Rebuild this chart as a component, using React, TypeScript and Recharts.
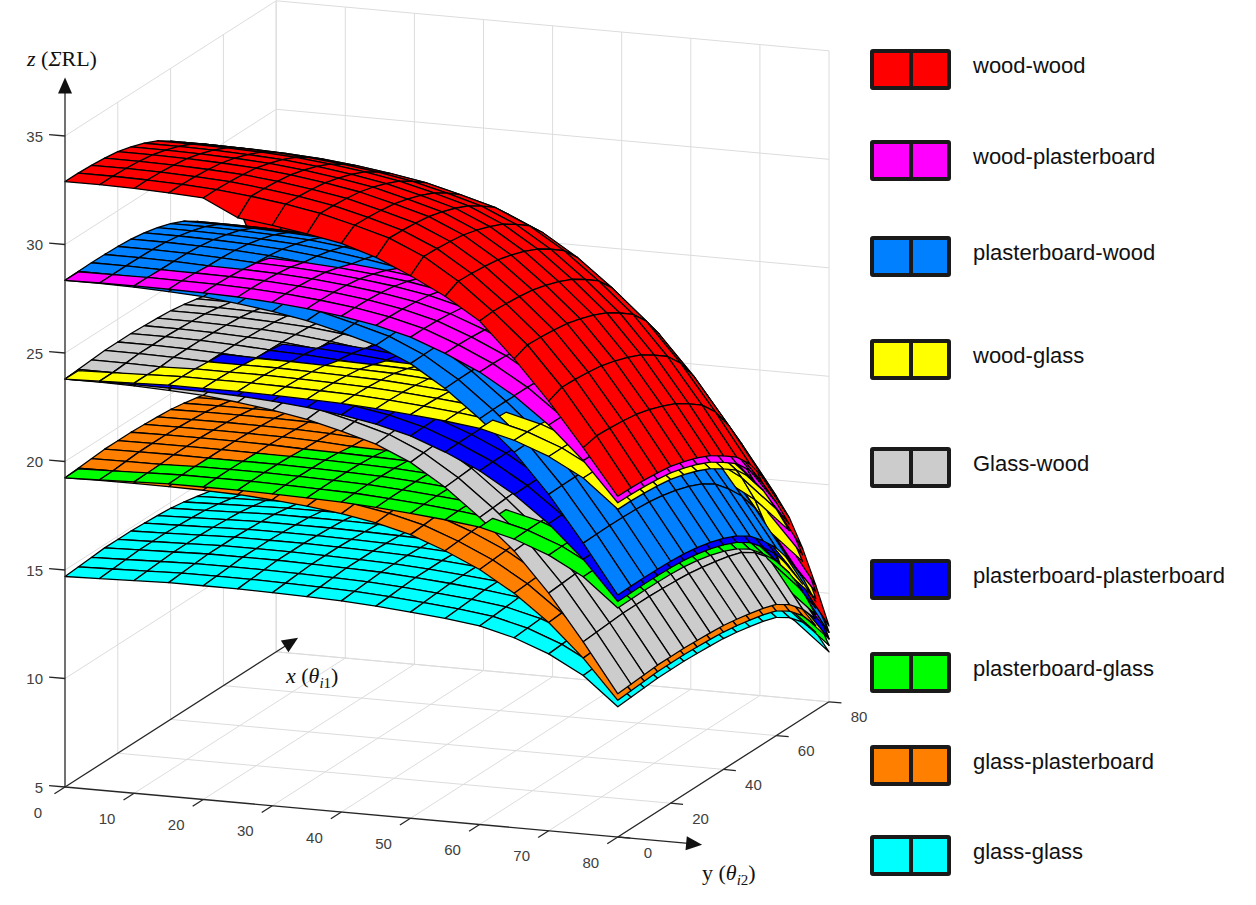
import { ScatterChart, Scatter, XAxis, YAxis, Legend } from "recharts";

// incidence angles (deg) of the surface mesh, same grid for θi1 and θi2
const ANGLES = [0, 5, 10, 15, 20, 25, 30, 35, 40, 45, 50, 55, 60, 65, 70, 75, 80];

// reflection loss (dB) of one bounce on each material vs incidence angle
const RL_WOOD = [16.45, 16.45, 16.42, 16.36, 16.27, 16.1, 15.88, 15.6, 15.2, 14.75, 14.05, 13.05, 11.8, 10.4, 8.6, 6.5, 4.25];
const RL_PLASTERBOARD = [11.9, 11.92, 11.93, 11.92, 11.9, 11.85, 11.75, 11.6, 11.4, 11.12, 10.72, 10.12, 9.4, 8.45, 7.25, 5.75, 3.95];
const RL_GLASS = [7.35, 7.4, 7.45, 7.5, 7.5, 7.5, 7.47, 7.43, 7.38, 7.28, 7.15, 7.0, 6.8, 6.4, 5.8, 4.95, 3.65];

// wood-wood front row (θi1 = 0), it sags below the rest of the sheet
const WOOD_WOOD_FRONT = [32.9, 32.9, 32.87, 32.81, 32.72, 31.95, 31.75, 31.5, 31.2, 30.7, 30.0, 29.2, 28.2, 26.6, 24.8, 22.8, 20.7];

const SURFACE_NAMES = [
  "wood-wood",
  "wood-plasterboard",
  "plasterboard-wood",
  "wood-glass",
  "Glass-wood",
  "plasterboard-plasterboard",
  "plasterboard-glass",
  "glass-plasterboard",
  "glass-glass",
];
// first bounce (θi1, depth axis) and second bounce (θi2, front axis)
const FIRST_MATERIAL = ["wood", "wood", "plasterboard", "wood", "glass", "plasterboard", "plasterboard", "glass", "glass"];
const SECOND_MATERIAL = ["wood", "plasterboard", "wood", "glass", "wood", "plasterboard", "glass", "plasterboard", "glass"];

const Z_TICKS = [5, 10, 15, 20, 25, 30, 35];
const Y_TICKS = [0, 10, 20, 30, 40, 50, 60, 70, 80]; // front edge, θi2
const X_TICKS = [0, 20, 40, 60, 80]; // depth edge, θi1

// ---- styles / layout ----
const COLORS = ["#ff0000", "#ff00ff", "#0080ff", "#ffff00", "#cccccc", "#0000ff", "#00ff00", "#ff8000", "#00ffff"];
const LEGEND_TOPS = [49, 140, 236, 339, 447, 559, 652, 745, 835];

const W = 1256;
const H = 905;
const X_DOMAIN = [0, W];
const Y_DOMAIN = [0, H];
const PX_X = W / (X_DOMAIN[1] - X_DOMAIN[0]);
const PX_Y = H / (Y_DOMAIN[1] - Y_DOMAIN[0]);

// 3D axes: screen position of (θi2=0, θi1=0, z=5) and the step per unit of each axis
const ORIGIN = { x: 65, y: 787 };
const U_VEC = { x: 6.91, y: 0.625 }; // per degree of θi2 (front)
const V_VEC = { x: 2.64, y: -1.69 }; // per degree of θi1 (depth)
const Z_PX = 21.7; // per dB
const Z_MIN = 5;
const Z_MAX = 35;
const A_MAX = 80;

const RL: Record<string, number[]> = { wood: RL_WOOD, plasterboard: RL_PLASTERBOARD, glass: RL_GLASS };

function project(u: number, v: number, z: number) {
  return {
    x: ORIGIN.x + U_VEC.x * u + V_VEC.x * v,
    y: ORIGIN.y + U_VEC.y * u + V_VEC.y * v - Z_PX * (z - Z_MIN),
  };
}

// view direction = null space of the projection (further away -> larger depth)
const VIEW = [V_VEC.x * -Z_PX, U_VEC.x * Z_PX, U_VEC.x * V_VEC.y - V_VEC.x * U_VEC.y];
const depthOf = (u: number, v: number, z: number) => VIEW[0] * u + VIEW[1] * v + VIEW[2] * z;

function surfaceZ(k: number, i: number, j: number) {
  if (k === 0 && j === 0) return WOOD_WOOD_FRONT[i];
  return RL[SECOND_MATERIAL[k]][i] + RL[FIRST_MATERIAL[k]][j];
}

type Quad = { sx: number; sy: number; offsets: number[][]; fill: string; depth: number };

function buildQuads(): Quad[] {
  const quads: Quad[] = [];
  SURFACE_NAMES.forEach((_, k) => {
    for (let i = 0; i < ANGLES.length - 1; i++) {
      for (let j = 0; j < ANGLES.length - 1; j++) {
        const corners = [
          [i, j],
          [i + 1, j],
          [i + 1, j + 1],
          [i, j + 1],
        ].map(([a, b]) => ({ u: ANGLES[a], v: ANGLES[b], z: surfaceZ(k, a, b) }));
        const pts = corners.map((c) => project(c.u, c.v, c.z));
        const depth = corners.reduce((s, c) => s + depthOf(c.u, c.v, c.z), 0) / 4;
        quads.push({
          sx: pts[0].x,
          sy: pts[0].y,
          offsets: pts.map((p) => [p.x - pts[0].x, p.y - pts[0].y]),
          fill: COLORS[k],
          depth,
        });
      }
    }
  });
  return quads.sort((a, b) => b.depth - a.depth);
}

type Seg = { sx: number; sy: number; dx: number; dy: number };

function seg(a: number[], b: number[]): Seg {
  const p = project(a[0], a[1], a[2]);
  const q = project(b[0], b[1], b[2]);
  return { sx: p.x, sy: p.y, dx: q.x - p.x, dy: q.y - p.y };
}

function buildGrid(): Seg[] {
  const out: Seg[] = [];
  // floor
  Y_TICKS.filter((t) => t > 0).forEach((u) => out.push(seg([u, 0, Z_MIN], [u, A_MAX, Z_MIN])));
  X_TICKS.filter((t) => t > 0).forEach((v) => out.push(seg([0, v, Z_MIN], [A_MAX, v, Z_MIN])));
  // left wall
  X_TICKS.filter((t) => t > 0).forEach((v) => out.push(seg([0, v, Z_MIN], [0, v, Z_MAX])));
  Z_TICKS.filter((t) => t > Z_MIN).forEach((z) => out.push(seg([0, 0, z], [0, A_MAX, z])));
  // back wall
  Y_TICKS.forEach((u) => out.push(seg([u, A_MAX, Z_MIN], [u, A_MAX, Z_MAX])));
  Z_TICKS.forEach((z) => out.push(seg([0, A_MAX, z], [A_MAX, A_MAX, z])));
  return out;
}

const Z_ARROW = 37.7;
const Y_ARROW = 92.2;
const X_ARROW = 88.3;

function buildAxes(): Seg[] {
  const out: Seg[] = [
    seg([0, 0, Z_MIN], [0, 0, Z_ARROW - 0.6]),
    seg([0, 0, Z_MIN], [Y_ARROW - 2, 0, Z_MIN]),
    seg([0, 0, Z_MIN], [0, X_ARROW - 5, Z_MIN]),
    seg([A_MAX, 0, Z_MIN], [A_MAX, A_MAX, Z_MIN]),
  ];
  Z_TICKS.forEach((z) => out.push(seg([0, 0, z], [-2.3, 0, z])));
  Y_TICKS.forEach((u) => out.push(seg([u, 0, Z_MIN], [u, -4, Z_MIN])));
  X_TICKS.forEach((v) => out.push(seg([A_MAX, v, Z_MIN], [A_MAX + 1.8, v, Z_MIN])));
  return out;
}

type Arrow = { sx: number; sy: number; ux: number; uy: number };
function arrow(a: number[], b: number[]): Arrow {
  const p = project(a[0], a[1], a[2]);
  const q = project(b[0], b[1], b[2]);
  const len = Math.hypot(q.x - p.x, q.y - p.y);
  return { sx: q.x, sy: q.y, ux: (q.x - p.x) / len, uy: (q.y - p.y) / len };
}

const ARROWS: Arrow[] = [
  arrow([0, 0, Z_MIN], [0, 0, Z_ARROW]),
  arrow([0, 0, Z_MIN], [Y_ARROW, 0, Z_MIN]),
  arrow([0, 0, Z_MIN], [0, X_ARROW, Z_MIN]),
];

type Label = { sx: number; sy: number; text: string; anchor: string };
function buildTickLabels(): Label[] {
  const out: Label[] = [];
  Z_TICKS.forEach((z) => {
    const p = project(0, 0, z);
    out.push({ sx: p.x - 22, sy: p.y, text: String(z), anchor: "end" });
  });
  Y_TICKS.forEach((u) => {
    const p = project(u, 0, Z_MIN);
    out.push({ sx: p.x - 27, sy: p.y + 25, text: String(u), anchor: "middle" });
  });
  X_TICKS.forEach((v) => {
    const p = project(A_MAX, v, Z_MIN);
    out.push({ sx: p.x + 30, sy: p.y + 15, text: String(v), anchor: "middle" });
  });
  return out;
}

const TITLES = [
  { sx: 27, sy: 66, kind: "z" },
  { sx: 286, sy: 683, kind: "x" },
  { sx: 702, sy: 880, kind: "y" },
];

const QUADS = buildQuads();
const GRID = buildGrid();
const AXES = buildAxes();
const TICK_LABELS = buildTickLabels();

function QuadShape(props: any) {
  const { cx, cy, payload } = props;
  if (cx == null || cy == null) return null;
  const pts = payload.offsets
    .map(([dx, dy]: number[]) => `${(cx + dx * PX_X).toFixed(2)},${(cy + dy * PX_Y).toFixed(2)}`)
    .join(" ");
  return <polygon points={pts} fill={payload.fill} stroke="#000" strokeWidth={1.3} strokeLinejoin="round" />;
}

function makeSegShape(stroke: string, width: number) {
  return (props: any) => {
    const { cx, cy, payload } = props;
    if (cx == null || cy == null) return null;
    return (
      <line
        x1={cx}
        y1={cy}
        x2={cx + payload.dx * PX_X}
        y2={cy + payload.dy * PX_Y}
        stroke={stroke}
        strokeWidth={width}
      />
    );
  };
}
const GridShape = makeSegShape("#dcdcdc", 1);
const AxisShape = makeSegShape("#262626", 1.3);

function ArrowShape(props: any) {
  const { cx, cy, payload } = props;
  if (cx == null || cy == null) return null;
  const { ux, uy } = payload;
  const L = 16;
  const hw = 7;
  const bx = cx - ux * L;
  const by = cy - uy * L;
  const pts = [
    [cx, cy],
    [bx - uy * hw, by + ux * hw],
    [bx + uy * hw, by - ux * hw],
  ]
    .map((p) => p.join(","))
    .join(" ");
  return <polygon points={pts} fill="#111" />;
}

function TickLabelShape(props: any) {
  const { cx, cy, payload } = props;
  if (cx == null || cy == null) return null;
  return (
    <text
      x={cx}
      y={cy}
      textAnchor={payload.anchor}
      dominantBaseline="central"
      fontFamily='"Liberation Sans", Arial, sans-serif'
      fontSize={15}
      fill="#404040"
    >
      {payload.text}
    </text>
  );
}

function TitleShape(props: any) {
  const { cx, cy, payload } = props;
  if (cx == null || cy == null) return null;
  const common = { x: cx, y: cy, fontFamily: '"Liberation Serif", "DejaVu Serif", serif', fontSize: 22, fill: "#111" };
  if (payload.kind === "z") {
    return (
      <text {...common}>
        <tspan fontStyle="italic">z</tspan>
        <tspan> (</tspan>
        <tspan fontStyle="italic">Σ</tspan>
        <tspan>RL)</tspan>
      </text>
    );
  }
  const sub = payload.kind === "x" ? "1" : "2";
  return (
    <text {...common}>
      <tspan fontStyle={payload.kind === "x" ? "italic" : "normal"}>{payload.kind}</tspan>
      <tspan> (</tspan>
      <tspan fontStyle="italic">θ</tspan>
      <tspan fontStyle="italic" fontSize={15} dy={5}>
        i
      </tspan>
      <tspan fontSize={15}>{sub}</tspan>
      <tspan dy={-5}>)</tspan>
    </text>
  );
}

function SurfaceLegend() {
  return (
    <div style={{ position: "relative", width: W, height: H, pointerEvents: "none" }}>
      {SURFACE_NAMES.map((name, k) => (
        <div
          key={name}
          style={{ position: "absolute", left: 870, top: LEGEND_TOPS[k], display: "flex", alignItems: "center" }}
        >
          <div
            style={{
              position: "relative",
              width: 81,
              height: 41,
              boxSizing: "border-box",
              border: "4px solid #1a1a1a",
              borderRadius: 3,
              background: COLORS[k],
            }}
          >
            <div
              style={{
                position: "absolute",
                left: "50%",
                top: 0,
                bottom: 0,
                width: 4,
                marginLeft: -2,
                background: "#1a1a1a",
              }}
            />
          </div>
          <span
            style={{
              position: "relative",
              top: -4,
              marginLeft: 22,
              fontFamily: '"Liberation Sans", Arial, sans-serif',
              fontSize: 22,
              color: "#111",
              whiteSpace: "nowrap",
            }}
          >
            {name}
          </span>
        </div>
      ))}
    </div>
  );
}

export default function App() {
  return (
    <div style={{ position: "absolute", left: 0, top: 0, width: W, height: H, background: "#fff" }}>
      <ScatterChart width={W} height={H} margin={{ top: 0, right: 0, bottom: 0, left: 0 }}>
        <XAxis type="number" dataKey="sx" domain={X_DOMAIN} allowDataOverflow hide />
        <YAxis type="number" dataKey="sy" domain={Y_DOMAIN} allowDataOverflow reversed hide />
        <Scatter data={GRID} shape={GridShape} isAnimationActive={false} />
        <Scatter data={QUADS} shape={QuadShape} isAnimationActive={false} />
        <Scatter data={AXES} shape={AxisShape} isAnimationActive={false} />
        <Scatter data={ARROWS} shape={ArrowShape} isAnimationActive={false} />
        <Scatter data={TICK_LABELS} shape={TickLabelShape} isAnimationActive={false} />
        <Scatter data={TITLES} shape={TitleShape} isAnimationActive={false} />
        <Legend
          layout="horizontal"
          verticalAlign="middle"
          align="center"
          content={() => <SurfaceLegend />}
          wrapperStyle={{ left: 0, top: 0, width: W, height: H, pointerEvents: "none" }}
        />
      </ScatterChart>
    </div>
  );
}
